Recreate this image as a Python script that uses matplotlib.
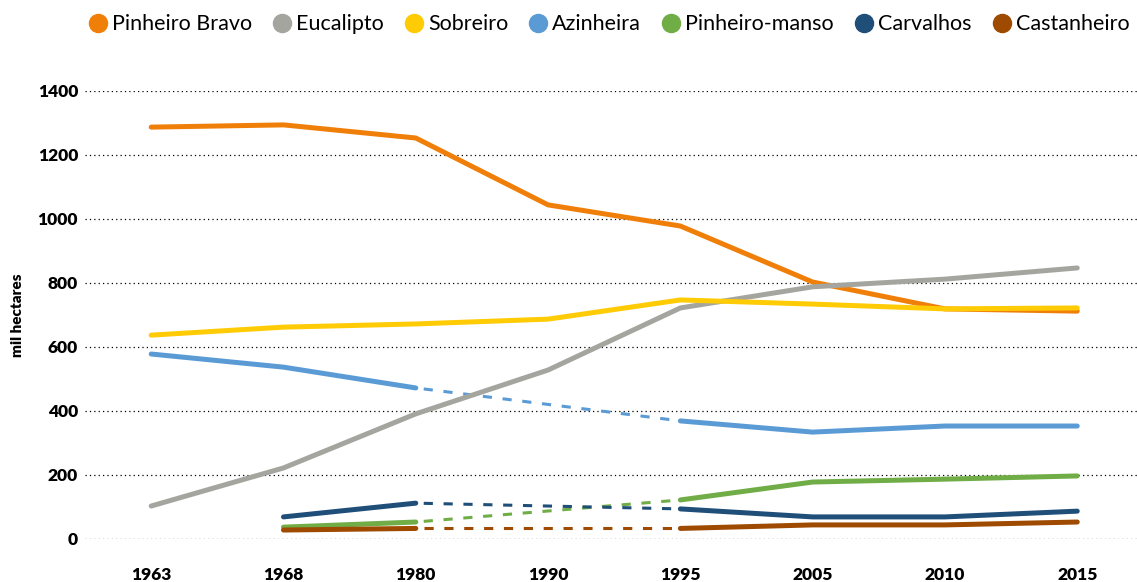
import numpy as np
import matplotlib.pyplot as plt
from matplotlib.lines import Line2D

plt.rcParams['font.family'] = ['Lato', 'DejaVu Sans']

years = ['1963', '1968', '1980', '1990', '1995', '2005', '2010', '2015']

# values in thousand hectares (None = no data for that year)
pinheiro_bravo = [1287, 1294, 1253, 1044, 978, 803, 719, 712]
eucalipto = [103, 222, 391, 528, 722, 788, 812, 847]
sobreiro = [637, 662, 672, 687, 747, 734, 719, 722]
azinheira = [578, 537, 472, None, 369, 334, 353, 353]
pinheiro_manso = [None, 37, 53, None, 122, 178, 187, 197]
carvalhos = [None, 69, 112, None, 94, 69, 69, 87]
castanheiro = [None, 28, 33, None, 33, 44, 44, 53]

series = [
    ('Pinheiro Bravo', pinheiro_bravo, '#F07F09'),
    ('Eucalipto', eucalipto, '#A5A5A0'),
    ('Sobreiro', sobreiro, '#FFCB05'),
    ('Azinheira', azinheira, '#5B9BD5'),
    ('Pinheiro-manso', pinheiro_manso, '#70AD47'),
    ('Carvalhos', carvalhos, '#1F4E79'),
    ('Castanheiro', castanheiro, '#9E4A00'),
]

fig = plt.figure(figsize=(11.37, 5.82), dpi=100)
ax = fig.add_axes([0.0748, 0.0739, 0.925, 0.7698])

x = np.arange(len(years))
for name, vals, color in series:
    v = np.array([np.nan if a is None else a for a in vals], dtype=float)
    # dashed bridge across missing years
    ok = ~np.isnan(v)
    idx = x[ok]
    for i0, i1 in zip(idx[:-1], idx[1:]):
        if i1 - i0 > 1:
            f = 0.06 / (i1 - i0)
            ax.plot([i0 + 0.06, i1 - 0.06],
                    [v[i0] + (v[i1] - v[i0]) * f, v[i1] - (v[i1] - v[i0]) * f],
                    color=color, lw=2.2, dashes=(3, 3.5), zorder=2)
    ax.plot(x, v, color=color, lw=3.6, solid_capstyle='round', zorder=3)

ax.set_xlim(-0.5, 7.45)
ax.set_ylim(0, 1400)
ax.set_yticks(range(0, 1401, 200))
ax.set_xticks(x)
ax.set_xticklabels(years)
ax.grid(axis='y', color='black', linestyle=(0, (1, 2.5)), linewidth=0.9)
ax.set_axisbelow(True)
for s in ax.spines.values():
    s.set_visible(False)
ax.tick_params(axis='both', length=0, labelsize=12.5)
ax.tick_params(axis='x', pad=20)
ax.tick_params(axis='y', pad=5)
for lab in ax.get_xticklabels() + ax.get_yticklabels():
    lab.set_fontweight('heavy')
ax.set_ylabel('mil hectares', fontsize=11, fontweight='heavy')
ax.yaxis.set_label_coords(-0.058, 0.5)

handles = [Line2D([], [], marker='o', linestyle='none', markersize=13,
                  markerfacecolor=c, markeredgecolor=c, label=n) for n, _, c in series]
fig.legend(handles=handles, loc='center', bbox_to_anchor=(0.535, 0.958), ncol=7,
           frameon=False, fontsize=15.5, handlelength=1.0, handletextpad=0.15,
           columnspacing=0.9, borderaxespad=0)

fig.savefig('out.png', dpi=100)
